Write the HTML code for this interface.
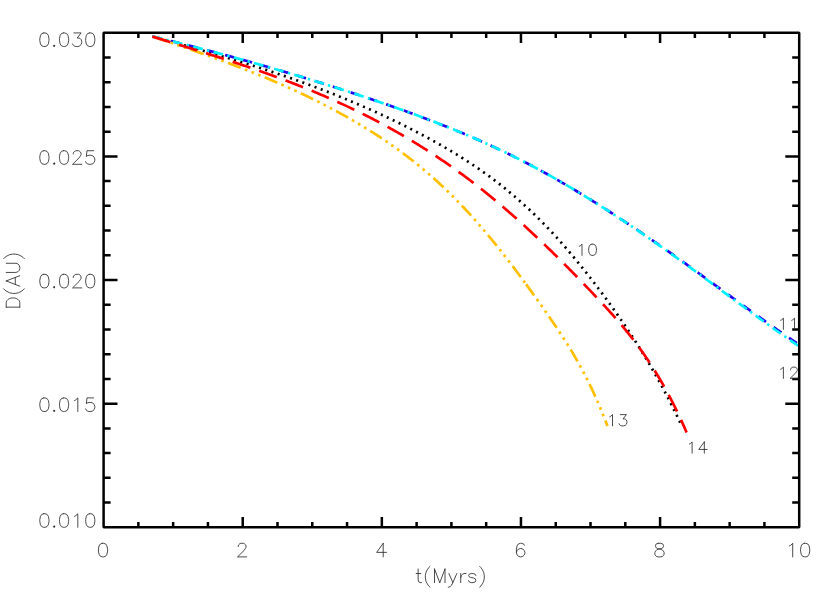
<!DOCTYPE html>
<html><head><meta charset="utf-8"><title>D(AU) vs t(Myrs)</title>
<style>html,body{margin:0;padding:0;background:#fff;font-family:"Liberation Sans",sans-serif;}svg{display:block;}</style></head><body>
<svg width="830" height="593" viewBox="0 0 830 593">
<rect x="0" y="0" width="830" height="593" fill="#ffffff"/>
<g fill="none" stroke-width="2.7" stroke-linecap="butt" stroke-linejoin="round">
<path d="M152.50 36.50 L153.56 36.79 L154.62 37.08 L155.67 37.37 L156.73 37.66 L157.79 37.95 L158.85 38.24 L159.91 38.53 L160.97 38.82 L162.02 39.11 L163.08 39.40 L164.14 39.69 L165.20 39.99 L166.26 40.28 L167.32 40.57 L168.37 40.86 L169.43 41.16 L170.49 41.45 L171.55 41.74 L172.61 42.04 L173.67 42.33 L174.72 42.62 L175.78 42.92 L176.84 43.21 L177.90 43.51 L178.96 43.80 L180.02 44.10 L181.07 44.39 L182.13 44.69 L183.19 44.99 L184.25 45.28 L185.31 45.58 L186.37 45.88 L187.42 46.18 L188.48 46.48 L189.54 46.77 L190.60 47.07 L191.66 47.37 L192.72 47.67 L193.77 47.97 L194.83 48.27 L195.89 48.58 L196.95 48.88 L198.01 49.18 L199.07 49.48 L200.12 49.79 L201.18 50.09 L202.24 50.39 L203.30 50.70 L204.36 51.00 L205.42 51.31 L206.47 51.61 L207.53 51.92 L208.59 52.23 L209.65 52.53 L210.71 52.84 L211.77 53.15 L212.82 53.46 L213.88 53.77 L214.94 54.08 L216.00 54.39 L217.06 54.70 L218.12 55.01 L219.17 55.33 L220.23 55.64 L221.29 55.95 L222.35 56.27 L223.41 56.58 L224.47 56.90 L225.52 57.21 L226.58 57.53 L227.64 57.85 L228.70 58.17 L229.76 58.48 L230.82 58.80 L231.87 59.12 L232.93 59.44 L233.99 59.77 L235.05 60.09 L236.11 60.41 L237.17 60.73 L238.22 61.06 L239.28 61.38 L240.34 61.71 L241.40 62.04 L242.46 62.36 L243.52 62.69 L244.57 63.02 L245.63 63.35 L246.69 63.68 L247.75 64.01 L248.81 64.34 L249.87 64.68 L250.92 65.01 L251.98 65.34 L253.04 65.68 L254.10 66.01 L255.16 66.35 L256.22 66.69 L257.27 67.03 L258.33 67.37 L259.39 67.71 L260.45 68.05 L261.51 68.39 L262.56 68.73 L263.62 69.08 L264.68 69.42 L265.74 69.77 L266.80 70.11 L267.86 70.46 L268.91 70.81 L269.97 71.16 L271.03 71.51 L272.09 71.86 L273.15 72.21 L274.21 72.56 L275.26 72.92 L276.32 73.27 L277.38 73.63 L278.44 73.99 L279.50 74.34 L280.56 74.70 L281.61 75.06 L282.67 75.42 L283.73 75.79 L284.79 76.15 L285.85 76.51 L286.91 76.88 L287.96 77.25 L289.02 77.61 L290.08 77.98 L291.14 78.35 L292.20 78.72 L293.26 79.09 L294.31 79.47 L295.37 79.84 L296.43 80.22 L297.49 80.59 L298.55 80.97 L299.61 81.35 L300.66 81.73 L301.72 82.11 L302.78 82.49 L303.84 82.87 L304.90 83.26 L305.96 83.64 L307.01 84.03 L308.07 84.42 L309.13 84.81 L310.19 85.20 L311.25 85.59 L312.31 85.98 L313.36 86.37 L314.42 86.77 L315.48 87.17 L316.54 87.56 L317.60 87.96 L318.66 88.36 L319.71 88.77 L320.77 89.17 L321.83 89.57 L322.89 89.98 L323.95 90.38 L325.01 90.79 L326.06 91.20 L327.12 91.61 L328.18 92.03 L329.24 92.44 L330.30 92.85 L331.36 93.27 L332.41 93.69 L333.47 94.11 L334.53 94.53 L335.59 94.95 L336.65 95.37 L337.71 95.80 L338.76 96.22 L339.82 96.65 L340.88 97.08 L341.94 97.51 L343.00 97.94 L344.06 98.37 L345.11 98.81 L346.17 99.24 L347.23 99.68 L348.29 100.12 L349.35 100.56 L350.41 101.00 L351.46 101.45 L352.52 101.89 L353.58 102.34 L354.64 102.78 L355.70 103.23 L356.76 103.69 L357.81 104.14 L358.87 104.59 L359.93 105.05 L360.99 105.51 L362.05 105.96 L363.11 106.42 L364.16 106.89 L365.22 107.35 L366.28 107.82 L367.34 108.28 L368.40 108.75 L369.45 109.22 L370.51 109.69 L371.57 110.17 L372.63 110.64 L373.69 111.12 L374.75 111.60 L375.80 112.08 L376.86 112.56 L377.92 113.04 L378.98 113.53 L380.04 114.01 L381.10 114.50 L382.15 114.99 L383.21 115.48 L384.27 115.98 L385.33 116.47 L386.39 116.97 L387.45 117.47 L388.50 117.97 L389.56 118.47 L390.62 118.98 L391.68 119.48 L392.74 119.99 L393.80 120.50 L394.85 121.01 L395.91 121.52 L396.97 122.04 L398.03 122.55 L399.09 123.07 L400.15 123.59 L401.20 124.12 L402.26 124.64 L403.32 125.17 L404.38 125.69 L405.44 126.22 L406.50 126.75 L407.55 127.29 L408.61 127.82 L409.67 128.36 L410.73 128.90 L411.79 129.44 L412.85 129.98 L413.90 130.53 L414.96 131.08 L416.02 131.63 L417.08 132.18 L418.14 132.73 L419.20 133.28 L420.25 133.84 L421.31 134.40 L422.37 134.96 L423.43 135.52 L424.49 136.09 L425.55 136.65 L426.60 137.22 L427.66 137.79 L428.72 138.37 L429.78 138.94 L430.84 139.52 L431.90 140.10 L432.95 140.68 L434.01 141.27 L435.07 141.86 L436.13 142.45 L437.19 143.04 L438.25 143.64 L439.30 144.23 L440.36 144.83 L441.42 145.44 L442.48 146.04 L443.54 146.65 L444.60 147.26 L445.65 147.88 L446.71 148.50 L447.77 149.12 L448.83 149.74 L449.89 150.37 L450.95 151.00 L452.00 151.63 L453.06 152.27 L454.12 152.91 L455.18 153.55 L456.24 154.20 L457.30 154.85 L458.35 155.50 L459.41 156.16 L460.47 156.82 L461.53 157.49 L462.59 158.15 L463.65 158.83 L464.70 159.50 L465.76 160.18 L466.82 160.86 L467.88 161.55 L468.94 162.24 L469.99 162.94 L471.05 163.64 L472.11 164.34 L473.17 165.05 L474.23 165.76 L475.29 166.47 L476.34 167.19 L477.40 167.92 L478.46 168.64 L479.52 169.38 L480.58 170.11 L481.64 170.85 L482.69 171.60 L483.75 172.35 L484.81 173.11 L485.87 173.87 L486.93 174.63 L487.99 175.40 L489.04 176.17 L490.10 176.95 L491.16 177.73 L492.22 178.52 L493.28 179.32 L494.34 180.11 L495.39 180.92 L496.45 181.73 L497.51 182.54 L498.57 183.36 L499.63 184.18 L500.69 185.01 L501.74 185.85 L502.80 186.69 L503.86 187.53 L504.92 188.38 L505.98 189.24 L507.04 190.10 L508.09 190.97 L509.15 191.84 L510.21 192.72 L511.27 193.60 L512.33 194.49 L513.39 195.39 L514.44 196.29 L515.50 197.20 L516.56 198.11 L517.62 199.03 L518.68 199.95 L519.74 200.89 L520.79 201.82 L521.85 202.77 L522.91 203.72 L523.97 204.67 L525.03 205.64 L526.09 206.60 L527.14 207.58 L528.20 208.56 L529.26 209.55 L530.32 210.54 L531.38 211.54 L532.44 212.55 L533.49 213.57 L534.55 214.59 L535.61 215.62 L536.67 216.65 L537.73 217.69 L538.79 218.74 L539.84 219.79 L540.90 220.86 L541.96 221.93 L543.02 223.00 L544.08 224.08 L545.14 225.17 L546.19 226.27 L547.25 227.38 L548.31 228.49 L549.37 229.61 L550.43 230.73 L551.49 231.86 L552.54 233.00 L553.60 234.15 L554.66 235.30 L555.72 236.46 L556.78 237.63 L557.84 238.80 L558.89 239.98 L559.95 241.16 L561.01 242.36 L562.07 243.56 L563.13 244.76 L564.19 245.97 L565.24 247.19 L566.30 248.42 L567.36 249.65 L568.42 250.89 L569.48 252.13 L570.54 253.38 L571.59 254.64 L572.65 255.90 L573.71 257.17 L574.77 258.44 L575.83 259.73 L576.88 261.01 L577.94 262.31 L579.00 263.60 L580.06 264.91 L581.12 266.22 L582.18 267.54 L583.23 268.86 L584.29 270.19 L585.35 271.52 L586.41 272.86 L587.47 274.21 L588.53 275.56 L589.58 276.92 L590.64 278.28 L591.70 279.65 L592.76 281.02 L593.82 282.40 L594.88 283.79 L595.93 285.18 L596.99 286.58 L598.05 287.98 L599.11 289.38 L600.17 290.79 L601.23 292.21 L602.28 293.63 L603.34 295.06 L604.40 296.49 L605.46 297.93 L606.52 299.38 L607.58 300.82 L608.63 302.28 L609.69 303.74 L610.75 305.20 L611.81 306.67 L612.87 308.15 L613.93 309.63 L614.98 311.12 L616.04 312.62 L617.10 314.12 L618.16 315.63 L619.22 317.15 L620.28 318.67 L621.33 320.20 L622.39 321.74 L623.45 323.29 L624.51 324.84 L625.57 326.41 L626.63 327.98 L627.68 329.56 L628.74 331.15 L629.80 332.75 L630.86 334.35 L631.92 335.97 L632.98 337.60 L634.03 339.23 L635.09 340.88 L636.15 342.53 L637.21 344.20 L638.27 345.87 L639.33 347.56 L640.38 349.25 L641.44 350.96 L642.50 352.68 L643.56 354.41 L644.62 356.15 L645.68 357.90 L646.73 359.67 L647.79 361.44 L648.85 363.23 L649.91 365.03 L650.97 366.84 L652.03 368.67 L653.08 370.51 L654.14 372.36 L655.20 374.22 L656.26 376.10 L657.32 377.99 L658.38 379.90 L659.43 381.81 L660.49 383.75 L661.55 385.69 L662.61 387.65 L663.67 389.63 L664.73 391.62 L665.78 393.63 L666.84 395.65 L667.90 397.68 L668.96 399.73 L670.02 401.80 L671.08 403.88 L672.13 405.98 L673.19 408.09 L674.25 410.22 L675.31 412.37 L676.37 414.54 L677.43 416.72 L678.48 418.91 L679.54 421.13 L680.60 423.36" stroke="#000000" stroke-dasharray="2.05 4.48"/>
<path d="M152.50 36.50 L153.80 36.81 L155.09 37.13 L156.39 37.44 L157.68 37.75 L158.98 38.07 L160.28 38.39 L161.57 38.70 L162.87 39.02 L164.17 39.34 L165.46 39.66 L166.76 39.97 L168.05 40.29 L169.35 40.62 L170.65 40.94 L171.94 41.26 L173.24 41.58 L174.54 41.90 L175.83 42.23 L177.13 42.55 L178.42 42.88 L179.72 43.20 L181.02 43.53 L182.31 43.85 L183.61 44.18 L184.90 44.51 L186.20 44.84 L187.50 45.17 L188.79 45.50 L190.09 45.83 L191.39 46.16 L192.68 46.49 L193.98 46.83 L195.27 47.16 L196.57 47.49 L197.87 47.83 L199.16 48.16 L200.46 48.50 L201.76 48.84 L203.05 49.17 L204.35 49.51 L205.64 49.85 L206.94 50.19 L208.24 50.53 L209.53 50.87 L210.83 51.21 L212.12 51.56 L213.42 51.90 L214.72 52.24 L216.01 52.59 L217.31 52.93 L218.61 53.28 L219.90 53.62 L221.20 53.97 L222.49 54.32 L223.79 54.67 L225.09 55.02 L226.38 55.37 L227.68 55.72 L228.98 56.07 L230.27 56.42 L231.57 56.77 L232.86 57.13 L234.16 57.48 L235.46 57.84 L236.75 58.19 L238.05 58.55 L239.34 58.91 L240.64 59.26 L241.94 59.62 L243.23 59.98 L244.53 60.34 L245.83 60.70 L247.12 61.06 L248.42 61.42 L249.71 61.79 L251.01 62.15 L252.31 62.52 L253.60 62.88 L254.90 63.25 L256.20 63.61 L257.49 63.98 L258.79 64.35 L260.08 64.72 L261.38 65.09 L262.68 65.46 L263.97 65.83 L265.27 66.20 L266.56 66.57 L267.86 66.94 L269.16 67.32 L270.45 67.69 L271.75 68.07 L273.05 68.44 L274.34 68.82 L275.64 69.20 L276.93 69.58 L278.23 69.95 L279.53 70.33 L280.82 70.72 L282.12 71.10 L283.42 71.48 L284.71 71.86 L286.01 72.25 L287.30 72.63 L288.60 73.01 L289.90 73.40 L291.19 73.79 L292.49 74.18 L293.78 74.56 L295.08 74.95 L296.38 75.34 L297.67 75.73 L298.97 76.12 L300.27 76.52 L301.56 76.91 L302.86 77.30 L304.15 77.70 L305.45 78.09 L306.75 78.49 L308.04 78.89 L309.34 79.28 L310.64 79.68 L311.93 80.08 L313.23 80.48 L314.52 80.88 L315.82 81.28 L317.12 81.69 L318.41 82.09 L319.71 82.49 L321.01 82.90 L322.30 83.30 L323.60 83.71 L324.89 84.12 L326.19 84.53 L327.49 84.93 L328.78 85.34 L330.08 85.75 L331.37 86.17 L332.67 86.58 L333.97 86.99 L335.26 87.40 L336.56 87.82 L337.86 88.23 L339.15 88.65 L340.45 89.07 L341.74 89.48 L343.04 89.90 L344.34 90.32 L345.63 90.74 L346.93 91.16 L348.23 91.59 L349.52 92.01 L350.82 92.43 L352.11 92.86 L353.41 93.28 L354.71 93.71 L356.00 94.14 L357.30 94.56 L358.59 94.99 L359.89 95.42 L361.19 95.85 L362.48 96.28 L363.78 96.71 L365.08 97.15 L366.37 97.58 L367.67 98.02 L368.96 98.45 L370.26 98.89 L371.56 99.32 L372.85 99.76 L374.15 100.20 L375.45 100.64 L376.74 101.08 L378.04 101.52 L379.33 101.97 L380.63 102.41 L381.93 102.85 L383.22 103.30 L384.52 103.75 L385.81 104.19 L387.11 104.64 L388.41 105.09 L389.70 105.54 L391.00 105.99 L392.30 106.44 L393.59 106.90 L394.89 107.35 L396.18 107.81 L397.48 108.27 L398.78 108.73 L400.07 109.19 L401.37 109.65 L402.67 110.11 L403.96 110.57 L405.26 111.04 L406.55 111.50 L407.85 111.97 L409.15 112.44 L410.44 112.91 L411.74 113.38 L413.03 113.85 L414.33 114.33 L415.63 114.80 L416.92 115.28 L418.22 115.76 L419.52 116.24 L420.81 116.72 L422.11 117.21 L423.40 117.69 L424.70 118.18 L426.00 118.67 L427.29 119.16 L428.59 119.65 L429.89 120.14 L431.18 120.64 L432.48 121.13 L433.77 121.63 L435.07 122.13 L436.37 122.63 L437.66 123.14 L438.96 123.64 L440.25 124.15 L441.55 124.66 L442.85 125.17 L444.14 125.68 L445.44 126.20 L446.74 126.71 L448.03 127.23 L449.33 127.75 L450.62 128.27 L451.92 128.80 L453.22 129.33 L454.51 129.85 L455.81 130.38 L457.11 130.92 L458.40 131.45 L459.70 131.99 L460.99 132.53 L462.29 133.07 L463.59 133.61 L464.88 134.16 L466.18 134.71 L467.47 135.25 L468.77 135.81 L470.07 136.36 L471.36 136.92 L472.66 137.48 L473.96 138.04 L475.25 138.60 L476.55 139.17 L477.84 139.74 L479.14 140.31 L480.44 140.88 L481.73 141.46 L483.03 142.03 L484.33 142.61 L485.62 143.20 L486.92 143.78 L488.21 144.37 L489.51 144.96 L490.81 145.56 L492.10 146.15 L493.40 146.75 L494.69 147.35 L495.99 147.95 L497.29 148.56 L498.58 149.17 L499.88 149.78 L501.18 150.40 L502.47 151.01 L503.77 151.63 L505.06 152.26 L506.36 152.88 L507.66 153.51 L508.95 154.14 L510.25 154.78 L511.55 155.41 L512.84 156.05 L514.14 156.69 L515.43 157.34 L516.73 157.99 L518.03 158.64 L519.32 159.30 L520.62 159.95 L521.91 160.61 L523.21 161.28 L524.51 161.94 L525.80 162.61 L527.10 163.29 L528.40 163.96 L529.69 164.64 L530.99 165.32 L532.28 166.01 L533.58 166.70 L534.88 167.39 L536.17 168.08 L537.47 168.78 L538.77 169.48 L540.06 170.18 L541.36 170.89 L542.65 171.60 L543.95 172.31 L545.25 173.02 L546.54 173.74 L547.84 174.46 L549.13 175.18 L550.43 175.91 L551.73 176.64 L553.02 177.37 L554.32 178.10 L555.62 178.84 L556.91 179.58 L558.21 180.32 L559.50 181.06 L560.80 181.81 L562.10 182.56 L563.39 183.31 L564.69 184.07 L565.99 184.83 L567.28 185.59 L568.58 186.35 L569.87 187.12 L571.17 187.88 L572.47 188.65 L573.76 189.43 L575.06 190.20 L576.35 190.98 L577.65 191.76 L578.95 192.54 L580.24 193.33 L581.54 194.11 L582.84 194.90 L584.13 195.69 L585.43 196.49 L586.72 197.29 L588.02 198.08 L589.32 198.88 L590.61 199.69 L591.91 200.49 L593.21 201.30 L594.50 202.11 L595.80 202.92 L597.09 203.74 L598.39 204.55 L599.69 205.37 L600.98 206.19 L602.28 207.02 L603.57 207.84 L604.87 208.67 L606.17 209.50 L607.46 210.33 L608.76 211.16 L610.06 212.00 L611.35 212.83 L612.65 213.67 L613.94 214.52 L615.24 215.36 L616.54 216.20 L617.83 217.05 L619.13 217.90 L620.43 218.75 L621.72 219.61 L623.02 220.46 L624.31 221.32 L625.61 222.18 L626.91 223.04 L628.20 223.90 L629.50 224.76 L630.79 225.63 L632.09 226.50 L633.39 227.37 L634.68 228.24 L635.98 229.11 L637.28 229.99 L638.57 230.86 L639.87 231.74 L641.16 232.62 L642.46 233.50 L643.76 234.39 L645.05 235.27 L646.35 236.16 L647.65 237.05 L648.94 237.94 L650.24 238.83 L651.53 239.72 L652.83 240.62 L654.13 241.51 L655.42 242.41 L656.72 243.31 L658.02 244.21 L659.31 245.12 L660.61 246.02 L661.90 246.92 L663.20 247.83 L664.50 248.74 L665.79 249.65 L667.09 250.56 L668.38 251.47 L669.68 252.39 L670.98 253.30 L672.27 254.22 L673.57 255.14 L674.87 256.06 L676.16 256.98 L677.46 257.90 L678.75 258.82 L680.05 259.75 L681.35 260.67 L682.64 261.60 L683.94 262.53 L685.24 263.46 L686.53 264.39 L687.83 265.32 L689.12 266.25 L690.42 267.18 L691.72 268.12 L693.01 269.05 L694.31 269.99 L695.60 270.93 L696.90 271.86 L698.20 272.80 L699.49 273.74 L700.79 274.68 L702.09 275.62 L703.38 276.56 L704.68 277.50 L705.97 278.44 L707.27 279.38 L708.57 280.33 L709.86 281.27 L711.16 282.21 L712.46 283.16 L713.75 284.10 L715.05 285.04 L716.34 285.99 L717.64 286.93 L718.94 287.87 L720.23 288.82 L721.53 289.76 L722.82 290.71 L724.12 291.65 L725.42 292.59 L726.71 293.54 L728.01 294.48 L729.31 295.42 L730.60 296.36 L731.90 297.31 L733.19 298.25 L734.49 299.19 L735.79 300.13 L737.08 301.07 L738.38 302.01 L739.68 302.95 L740.97 303.89 L742.27 304.83 L743.56 305.76 L744.86 306.70 L746.16 307.64 L747.45 308.57 L748.75 309.51 L750.04 310.44 L751.34 311.37 L752.64 312.30 L753.93 313.23 L755.23 314.16 L756.53 315.09 L757.82 316.02 L759.12 316.94 L760.41 317.87 L761.71 318.79 L763.01 319.71 L764.30 320.63 L765.60 321.55 L766.90 322.47 L768.19 323.38 L769.49 324.30 L770.78 325.21 L772.08 326.12 L773.38 327.03 L774.67 327.94 L775.97 328.84 L777.26 329.75 L778.56 330.65 L779.86 331.55 L781.15 332.45 L782.45 333.35 L783.75 334.24 L785.04 335.13 L786.34 336.03 L787.63 336.91 L788.93 337.80 L790.23 338.69 L791.52 339.57 L792.82 340.45 L794.12 341.32 L795.41 342.20 L796.71 343.07 L798.00 343.94 L799.30 344.81" stroke="#2800f0" stroke-dasharray="9.35 9.37"/>
<path d="M152.50 36.50 L153.80 36.81 L155.09 37.13 L156.39 37.44 L157.68 37.75 L158.98 38.07 L160.28 38.39 L161.57 38.70 L162.87 39.02 L164.17 39.34 L165.46 39.66 L166.76 39.97 L168.05 40.29 L169.35 40.62 L170.65 40.94 L171.94 41.26 L173.24 41.58 L174.54 41.90 L175.83 42.23 L177.13 42.55 L178.42 42.88 L179.72 43.20 L181.02 43.53 L182.31 43.85 L183.61 44.18 L184.90 44.51 L186.20 44.84 L187.50 45.17 L188.79 45.50 L190.09 45.83 L191.39 46.16 L192.68 46.49 L193.98 46.83 L195.27 47.16 L196.57 47.49 L197.87 47.83 L199.16 48.16 L200.46 48.50 L201.76 48.84 L203.05 49.17 L204.35 49.51 L205.64 49.85 L206.94 50.19 L208.24 50.53 L209.53 50.87 L210.83 51.21 L212.12 51.56 L213.42 51.90 L214.72 52.24 L216.01 52.59 L217.31 52.93 L218.61 53.28 L219.90 53.62 L221.20 53.97 L222.49 54.32 L223.79 54.67 L225.09 55.02 L226.38 55.37 L227.68 55.72 L228.98 56.07 L230.27 56.42 L231.57 56.77 L232.86 57.13 L234.16 57.48 L235.46 57.84 L236.75 58.19 L238.05 58.55 L239.34 58.91 L240.64 59.26 L241.94 59.62 L243.23 59.98 L244.53 60.34 L245.83 60.70 L247.12 61.06 L248.42 61.42 L249.71 61.79 L251.01 62.15 L252.31 62.52 L253.60 62.88 L254.90 63.25 L256.20 63.61 L257.49 63.98 L258.79 64.35 L260.08 64.72 L261.38 65.09 L262.68 65.46 L263.97 65.83 L265.27 66.20 L266.56 66.57 L267.86 66.94 L269.16 67.32 L270.45 67.69 L271.75 68.07 L273.05 68.44 L274.34 68.82 L275.64 69.20 L276.93 69.58 L278.23 69.95 L279.53 70.33 L280.82 70.72 L282.12 71.10 L283.42 71.48 L284.71 71.86 L286.01 72.25 L287.30 72.63 L288.60 73.01 L289.90 73.40 L291.19 73.79 L292.49 74.18 L293.78 74.56 L295.08 74.95 L296.38 75.34 L297.67 75.73 L298.97 76.12 L300.27 76.52 L301.56 76.91 L302.86 77.30 L304.15 77.70 L305.45 78.09 L306.75 78.49 L308.04 78.89 L309.34 79.28 L310.64 79.68 L311.93 80.08 L313.23 80.48 L314.52 80.88 L315.82 81.28 L317.12 81.69 L318.41 82.09 L319.71 82.49 L321.01 82.90 L322.30 83.30 L323.60 83.71 L324.89 84.12 L326.19 84.53 L327.49 84.93 L328.78 85.34 L330.08 85.75 L331.37 86.17 L332.67 86.58 L333.97 86.99 L335.26 87.40 L336.56 87.82 L337.86 88.23 L339.15 88.65 L340.45 89.07 L341.74 89.48 L343.04 89.90 L344.34 90.32 L345.63 90.74 L346.93 91.16 L348.23 91.59 L349.52 92.01 L350.82 92.43 L352.11 92.86 L353.41 93.28 L354.71 93.71 L356.00 94.14 L357.30 94.56 L358.59 94.99 L359.89 95.42 L361.19 95.85 L362.48 96.28 L363.78 96.71 L365.08 97.15 L366.37 97.58 L367.67 98.02 L368.96 98.45 L370.26 98.89 L371.56 99.32 L372.85 99.76 L374.15 100.20 L375.45 100.64 L376.74 101.08 L378.04 101.52 L379.33 101.97 L380.63 102.41 L381.93 102.85 L383.22 103.30 L384.52 103.75 L385.81 104.19 L387.11 104.64 L388.41 105.09 L389.70 105.54 L391.00 105.99 L392.30 106.44 L393.59 106.90 L394.89 107.35 L396.18 107.81 L397.48 108.27 L398.78 108.73 L400.07 109.19 L401.37 109.65 L402.67 110.11 L403.96 110.57 L405.26 111.04 L406.55 111.50 L407.85 111.97 L409.15 112.44 L410.44 112.91 L411.74 113.38 L413.03 113.85 L414.33 114.33 L415.63 114.80 L416.92 115.28 L418.22 115.76 L419.52 116.24 L420.81 116.72 L422.11 117.21 L423.40 117.69 L424.70 118.18 L426.00 118.67 L427.29 119.16 L428.59 119.65 L429.89 120.14 L431.18 120.64 L432.48 121.13 L433.77 121.63 L435.07 122.13 L436.37 122.63 L437.66 123.14 L438.96 123.64 L440.25 124.15 L441.55 124.66 L442.85 125.17 L444.14 125.68 L445.44 126.20 L446.74 126.71 L448.03 127.23 L449.33 127.75 L450.62 128.27 L451.92 128.80 L453.22 129.33 L454.51 129.85 L455.81 130.38 L457.11 130.92 L458.40 131.45 L459.70 131.99 L460.99 132.53 L462.29 133.07 L463.59 133.61 L464.88 134.16 L466.18 134.71 L467.47 135.25 L468.77 135.81 L470.07 136.36 L471.36 136.92 L472.66 137.48 L473.96 138.04 L475.25 138.60 L476.55 139.17 L477.84 139.74 L479.14 140.31 L480.44 140.88 L481.73 141.46 L483.03 142.03 L484.33 142.61 L485.62 143.20 L486.92 143.78 L488.21 144.37 L489.51 144.96 L490.81 145.56 L492.10 146.15 L493.40 146.75 L494.69 147.35 L495.99 147.95 L497.29 148.56 L498.58 149.17 L499.88 149.78 L501.18 150.40 L502.47 151.01 L503.77 151.63 L505.06 152.26 L506.36 152.88 L507.66 153.51 L508.95 154.14 L510.25 154.78 L511.55 155.41 L512.84 156.05 L514.14 156.69 L515.43 157.34 L516.73 157.99 L518.03 158.64 L519.32 159.30 L520.62 159.95 L521.91 160.61 L523.21 161.28 L524.51 161.94 L525.80 162.61 L527.10 163.29 L528.40 163.96 L529.69 164.64 L530.99 165.32 L532.28 166.01 L533.58 166.70 L534.88 167.39 L536.17 168.08 L537.47 168.78 L538.77 169.48 L540.06 170.18 L541.36 170.89 L542.65 171.60 L543.95 172.31 L545.25 173.02 L546.54 173.74 L547.84 174.46 L549.13 175.18 L550.43 175.91 L551.73 176.64 L553.02 177.37 L554.32 178.10 L555.62 178.84 L556.91 179.58 L558.21 180.32 L559.50 181.06 L560.80 181.81 L562.10 182.56 L563.39 183.32 L564.69 184.07 L565.99 184.83 L567.28 185.59 L568.58 186.35 L569.87 187.12 L571.17 187.89 L572.47 188.66 L573.76 189.43 L575.06 190.21 L576.35 190.99 L577.65 191.77 L578.95 192.55 L580.24 193.34 L581.54 194.13 L582.84 194.92 L584.13 195.71 L585.43 196.51 L586.72 197.31 L588.02 198.11 L589.32 198.91 L590.61 199.72 L591.91 200.52 L593.21 201.33 L594.50 202.15 L595.80 202.96 L597.09 203.78 L598.39 204.60 L599.69 205.42 L600.98 206.24 L602.28 207.07 L603.57 207.90 L604.87 208.73 L606.17 209.56 L607.46 210.40 L608.76 211.23 L610.06 212.07 L611.35 212.91 L612.65 213.76 L613.94 214.60 L615.24 215.45 L616.54 216.30 L617.83 217.15 L619.13 218.00 L620.43 218.86 L621.72 219.72 L623.02 220.58 L624.31 221.44 L625.61 222.30 L626.91 223.17 L628.20 224.04 L629.50 224.91 L630.79 225.78 L632.09 226.65 L633.39 227.53 L634.68 228.40 L635.98 229.28 L637.28 230.16 L638.57 231.05 L639.87 231.93 L641.16 232.82 L642.46 233.71 L643.76 234.60 L645.05 235.49 L646.35 236.38 L647.65 237.28 L648.94 238.17 L650.24 239.07 L651.53 239.97 L652.83 240.87 L654.13 241.78 L655.42 242.68 L656.72 243.59 L658.02 244.50 L659.31 245.41 L660.61 246.32 L661.90 247.23 L663.20 248.15 L664.50 249.06 L665.79 249.98 L667.09 250.90 L668.38 251.82 L669.68 252.74 L670.98 253.67 L672.27 254.59 L673.57 255.52 L674.87 256.45 L676.16 257.38 L677.46 258.31 L678.75 259.24 L680.05 260.17 L681.35 261.11 L682.64 262.05 L683.94 262.98 L685.24 263.92 L686.53 264.86 L687.83 265.80 L689.12 266.75 L690.42 267.69 L691.72 268.63 L693.01 269.58 L694.31 270.52 L695.60 271.47 L696.90 272.42 L698.20 273.37 L699.49 274.32 L700.79 275.27 L702.09 276.22 L703.38 277.17 L704.68 278.12 L705.97 279.07 L707.27 280.03 L708.57 280.98 L709.86 281.94 L711.16 282.89 L712.46 283.85 L713.75 284.80 L715.05 285.76 L716.34 286.71 L717.64 287.67 L718.94 288.62 L720.23 289.58 L721.53 290.54 L722.82 291.49 L724.12 292.45 L725.42 293.41 L726.71 294.36 L728.01 295.32 L729.31 296.27 L730.60 297.23 L731.90 298.18 L733.19 299.14 L734.49 300.09 L735.79 301.05 L737.08 302.00 L738.38 302.96 L739.68 303.91 L740.97 304.86 L742.27 305.81 L743.56 306.77 L744.86 307.72 L746.16 308.67 L747.45 309.61 L748.75 310.56 L750.04 311.51 L751.34 312.46 L752.64 313.40 L753.93 314.35 L755.23 315.29 L756.53 316.24 L757.82 317.18 L759.12 318.12 L760.41 319.06 L761.71 320.00 L763.01 320.93 L764.30 321.87 L765.60 322.80 L766.90 323.74 L768.19 324.67 L769.49 325.60 L770.78 326.53 L772.08 327.46 L773.38 328.38 L774.67 329.31 L775.97 330.23 L777.26 331.15 L778.56 332.07 L779.86 332.99 L781.15 333.90 L782.45 334.82 L783.75 335.73 L785.04 336.64 L786.34 337.55 L787.63 338.45 L788.93 339.36 L790.23 340.26 L791.52 341.16 L792.82 342.06 L794.12 342.95 L795.41 343.85 L796.71 344.74 L798.00 345.62 L799.30 346.51" stroke="#00f0ff" stroke-dasharray="9.85 4.4 2.3 4.43"/>
<path d="M152.50 36.50 L153.41 36.81 L154.32 37.11 L155.24 37.42 L156.15 37.73 L157.06 38.04 L157.97 38.35 L158.88 38.66 L159.79 38.97 L160.71 39.28 L161.62 39.59 L162.53 39.90 L163.44 40.21 L164.35 40.52 L165.27 40.83 L166.18 41.14 L167.09 41.45 L168.00 41.76 L168.91 42.07 L169.82 42.38 L170.74 42.69 L171.65 43.00 L172.56 43.31 L173.47 43.63 L174.38 43.94 L175.30 44.25 L176.21 44.56 L177.12 44.87 L178.03 45.19 L178.94 45.50 L179.85 45.81 L180.77 46.13 L181.68 46.44 L182.59 46.75 L183.50 47.07 L184.41 47.38 L185.33 47.70 L186.24 48.01 L187.15 48.33 L188.06 48.64 L188.97 48.96 L189.88 49.28 L190.80 49.59 L191.71 49.91 L192.62 50.23 L193.53 50.55 L194.44 50.87 L195.36 51.19 L196.27 51.50 L197.18 51.82 L198.09 52.15 L199.00 52.47 L199.91 52.79 L200.83 53.11 L201.74 53.43 L202.65 53.75 L203.56 54.08 L204.47 54.40 L205.39 54.72 L206.30 55.05 L207.21 55.37 L208.12 55.70 L209.03 56.03 L209.94 56.35 L210.86 56.68 L211.77 57.01 L212.68 57.34 L213.59 57.67 L214.50 58.00 L215.42 58.33 L216.33 58.66 L217.24 58.99 L218.15 59.32 L219.06 59.66 L219.97 59.99 L220.89 60.32 L221.80 60.66 L222.71 60.99 L223.62 61.33 L224.53 61.67 L225.45 62.00 L226.36 62.34 L227.27 62.68 L228.18 63.02 L229.09 63.36 L230.01 63.70 L230.92 64.05 L231.83 64.39 L232.74 64.73 L233.65 65.08 L234.56 65.42 L235.48 65.77 L236.39 66.12 L237.30 66.47 L238.21 66.81 L239.12 67.16 L240.04 67.51 L240.95 67.87 L241.86 68.22 L242.77 68.57 L243.68 68.92 L244.59 69.28 L245.51 69.64 L246.42 69.99 L247.33 70.35 L248.24 70.71 L249.15 71.07 L250.07 71.43 L250.98 71.79 L251.89 72.15 L252.80 72.52 L253.71 72.88 L254.62 73.25 L255.54 73.61 L256.45 73.98 L257.36 74.35 L258.27 74.72 L259.18 75.09 L260.10 75.46 L261.01 75.83 L261.92 76.21 L262.83 76.58 L263.74 76.96 L264.65 77.33 L265.57 77.71 L266.48 78.09 L267.39 78.47 L268.30 78.85 L269.21 79.24 L270.13 79.62 L271.04 80.00 L271.95 80.39 L272.86 80.78 L273.77 81.17 L274.68 81.56 L275.60 81.95 L276.51 82.34 L277.42 82.73 L278.33 83.13 L279.24 83.52 L280.16 83.92 L281.07 84.32 L281.98 84.72 L282.89 85.12 L283.80 85.52 L284.71 85.93 L285.63 86.33 L286.54 86.74 L287.45 87.14 L288.36 87.55 L289.27 87.96 L290.19 88.37 L291.10 88.79 L292.01 89.20 L292.92 89.62 L293.83 90.03 L294.74 90.45 L295.66 90.87 L296.57 91.29 L297.48 91.72 L298.39 92.14 L299.30 92.57 L300.22 92.99 L301.13 93.42 L302.04 93.85 L302.95 94.28 L303.86 94.72 L304.77 95.15 L305.69 95.59 L306.60 96.02 L307.51 96.46 L308.42 96.90 L309.33 97.35 L310.25 97.79 L311.16 98.24 L312.07 98.68 L312.98 99.13 L313.89 99.58 L314.80 100.03 L315.72 100.49 L316.63 100.94 L317.54 101.40 L318.45 101.85 L319.36 102.31 L320.28 102.78 L321.19 103.24 L322.10 103.70 L323.01 104.17 L323.92 104.64 L324.83 105.11 L325.75 105.58 L326.66 106.05 L327.57 106.53 L328.48 107.00 L329.39 107.48 L330.31 107.96 L331.22 108.44 L332.13 108.93 L333.04 109.41 L333.95 109.90 L334.86 110.39 L335.78 110.88 L336.69 111.37 L337.60 111.87 L338.51 112.36 L339.42 112.86 L340.34 113.36 L341.25 113.86 L342.16 114.37 L343.07 114.87 L343.98 115.38 L344.89 115.89 L345.81 116.40 L346.72 116.91 L347.63 117.43 L348.54 117.95 L349.45 118.46 L350.37 118.99 L351.28 119.51 L352.19 120.03 L353.10 120.56 L354.01 121.09 L354.92 121.62 L355.84 122.15 L356.75 122.69 L357.66 123.23 L358.57 123.77 L359.48 124.31 L360.40 124.85 L361.31 125.40 L362.22 125.95 L363.13 126.50 L364.04 127.05 L364.95 127.61 L365.87 128.17 L366.78 128.73 L367.69 129.29 L368.60 129.86 L369.51 130.43 L370.43 131.00 L371.34 131.57 L372.25 132.15 L373.16 132.73 L374.07 133.31 L374.98 133.89 L375.90 134.48 L376.81 135.07 L377.72 135.66 L378.63 136.25 L379.54 136.85 L380.46 137.45 L381.37 138.06 L382.28 138.66 L383.19 139.27 L384.10 139.88 L385.02 140.50 L385.93 141.12 L386.84 141.74 L387.75 142.36 L388.66 142.99 L389.57 143.62 L390.49 144.25 L391.40 144.89 L392.31 145.53 L393.22 146.17 L394.13 146.82 L395.05 147.47 L395.96 148.12 L396.87 148.78 L397.78 149.43 L398.69 150.10 L399.60 150.76 L400.52 151.43 L401.43 152.11 L402.34 152.78 L403.25 153.46 L404.16 154.14 L405.08 154.83 L405.99 155.52 L406.90 156.21 L407.81 156.91 L408.72 157.61 L409.63 158.32 L410.55 159.03 L411.46 159.74 L412.37 160.45 L413.28 161.17 L414.19 161.90 L415.11 162.62 L416.02 163.35 L416.93 164.09 L417.84 164.83 L418.75 165.57 L419.66 166.32 L420.58 167.07 L421.49 167.82 L422.40 168.58 L423.31 169.34 L424.22 170.11 L425.14 170.88 L426.05 171.65 L426.96 172.43 L427.87 173.22 L428.78 174.00 L429.69 174.80 L430.61 175.59 L431.52 176.39 L432.43 177.20 L433.34 178.00 L434.25 178.82 L435.17 179.63 L436.08 180.46 L436.99 181.28 L437.90 182.11 L438.81 182.95 L439.72 183.79 L440.64 184.63 L441.55 185.48 L442.46 186.33 L443.37 187.19 L444.28 188.05 L445.20 188.92 L446.11 189.79 L447.02 190.67 L447.93 191.55 L448.84 192.44 L449.75 193.33 L450.67 194.22 L451.58 195.12 L452.49 196.03 L453.40 196.94 L454.31 197.86 L455.23 198.78 L456.14 199.70 L457.05 200.63 L457.96 201.57 L458.87 202.51 L459.78 203.45 L460.70 204.40 L461.61 205.36 L462.52 206.32 L463.43 207.28 L464.34 208.25 L465.26 209.23 L466.17 210.21 L467.08 211.20 L467.99 212.19 L468.90 213.18 L469.81 214.18 L470.73 215.19 L471.64 216.20 L472.55 217.22 L473.46 218.24 L474.37 219.26 L475.29 220.29 L476.20 221.33 L477.11 222.37 L478.02 223.41 L478.93 224.46 L479.84 225.51 L480.76 226.57 L481.67 227.63 L482.58 228.70 L483.49 229.77 L484.40 230.84 L485.32 231.92 L486.23 233.01 L487.14 234.10 L488.05 235.19 L488.96 236.29 L489.87 237.39 L490.79 238.50 L491.70 239.61 L492.61 240.72 L493.52 241.84 L494.43 242.96 L495.35 244.09 L496.26 245.22 L497.17 246.35 L498.08 247.49 L498.99 248.64 L499.90 249.78 L500.82 250.93 L501.73 252.09 L502.64 253.25 L503.55 254.41 L504.46 255.58 L505.38 256.75 L506.29 257.92 L507.20 259.10 L508.11 260.28 L509.02 261.46 L509.93 262.65 L510.85 263.84 L511.76 265.04 L512.67 266.24 L513.58 267.44 L514.49 268.65 L515.41 269.85 L516.32 271.07 L517.23 272.28 L518.14 273.50 L519.05 274.73 L519.96 275.95 L520.88 277.18 L521.79 278.42 L522.70 279.65 L523.61 280.89 L524.52 282.13 L525.44 283.38 L526.10 284.29" stroke="#ffc000" stroke-dasharray="13.7 4.5 2.6 4.5 2.6 4.5 2.6 4.5" stroke-dashoffset="-0.9"/>
<path d="M526.10 284.29 L526.35 284.63 L527.26 285.88 L528.17 287.13 L529.08 288.39 L529.99 289.65 L530.91 290.91 L531.82 292.18 L532.73 293.45 L533.64 294.72 L534.55 296.00 L535.47 297.28 L536.38 298.56 L537.29 299.84 L538.20 301.13 L539.11 302.41 L540.03 303.71 L540.94 305.00 L541.85 306.30 L542.76 307.60 L543.67 308.90 L544.58 310.20 L545.50 311.51 L546.41 312.82 L547.32 314.13 L548.23 315.44 L549.14 316.76 L550.06 318.08 L550.97 319.40 L551.88 320.73 L552.79 322.06 L553.70 323.39 L554.61 324.73 L555.53 326.07 L556.44 327.42 L557.35 328.78 L558.26 330.14 L559.17 331.51 L560.09 332.88 L561.00 334.27 L561.91 335.66 L562.82 337.06 L563.73 338.48 L564.64 339.90 L565.56 341.33 L566.47 342.77 L567.38 344.22 L568.29 345.69 L569.20 347.17 L570.12 348.66 L571.03 350.16 L571.94 351.67 L572.85 353.20 L573.76 354.75 L574.67 356.31 L575.59 357.88 L576.50 359.47 L577.41 361.08 L578.32 362.70 L579.23 364.34 L580.15 365.99 L581.06 367.67 L581.97 369.36 L582.88 371.07 L583.79 372.80 L584.70 374.55 L585.62 376.33 L586.53 378.12 L587.44 379.93 L588.35 381.76 L589.26 383.62 L590.18 385.50 L591.09 387.40 L592.00 389.33 L592.91 391.27 L593.82 393.25 L594.73 395.24 L595.65 397.27 L596.56 399.31 L597.47 401.39 L598.38 403.49 L599.29 405.62 L600.21 407.77 L601.12 409.96 L602.03 412.17 L602.94 414.41 L603.85 416.68 L604.76 418.97 L605.68 421.30 L606.59 423.66 L607.50 426.05" stroke="#ffc000" stroke-dasharray="13.7 4.5 2.6 4.5 2.6 4.5 2.6 4.5"/>
<path d="M152.40 36.60 L153.47 36.93 L154.54 37.25 L155.61 37.58 L156.68 37.91 L157.75 38.24 L158.82 38.57 L159.89 38.90 L160.96 39.23 L162.03 39.56 L163.11 39.89 L164.18 40.21 L165.25 40.54 L166.32 40.87 L167.39 41.20 L168.46 41.53 L169.53 41.86 L170.60 42.19 L171.67 42.52 L172.74 42.85 L173.81 43.17 L174.88 43.50 L175.95 43.83 L177.02 44.16 L178.09 44.49 L179.16 44.82 L180.23 45.15 L181.30 45.48 L182.38 45.81 L183.45 46.14 L184.52 46.48 L185.59 46.81 L186.66 47.14 L187.73 47.47 L188.80 47.80 L189.87 48.13 L190.94 48.47 L192.01 48.80 L193.08 49.13 L194.15 49.47 L195.22 49.80 L196.29 50.13 L197.36 50.47 L198.43 50.80 L199.50 51.14 L200.57 51.47 L201.64 51.81 L202.72 52.15 L203.79 52.48 L204.86 52.82 L205.93 53.16 L207.00 53.50 L208.07 53.84 L209.14 54.18 L210.21 54.52 L211.28 54.86 L212.35 55.20 L213.42 55.54 L214.49 55.88 L215.56 56.22 L216.63 56.57 L217.70 56.91 L218.77 57.25 L219.84 57.60 L220.91 57.94 L221.99 58.29 L223.06 58.64 L224.13 58.99 L225.20 59.33 L226.27 59.68 L227.34 60.03 L228.41 60.38 L229.48 60.73 L230.55 61.08 L231.62 61.44 L232.69 61.79 L233.76 62.14 L234.83 62.50 L235.90 62.85 L236.97 63.21 L238.04 63.57 L239.11 63.93 L240.18 64.28 L241.25 64.64 L242.33 65.00 L243.40 65.37 L244.47 65.73 L245.54 66.09 L246.61 66.45 L247.68 66.82 L248.75 67.19 L249.82 67.55 L250.89 67.92 L251.96 68.29 L253.03 68.66 L254.10 69.03 L255.17 69.40 L256.24 69.77 L257.31 70.15 L258.38 70.52 L259.45 70.90 L260.52 71.27 L261.60 71.65 L262.67 72.03 L263.74 72.41 L264.81 72.79 L265.88 73.17 L266.95 73.56 L268.02 73.94 L269.09 74.33 L270.16 74.72 L271.23 75.10 L272.30 75.49 L273.37 75.88 L274.44 76.27 L275.51 76.67 L276.58 77.06 L277.65 77.46 L278.72 77.85 L279.79 78.25 L280.86 78.65 L281.94 79.05 L283.01 79.45 L284.08 79.86 L285.15 80.26 L286.22 80.67 L287.29 81.07 L288.36 81.48 L289.43 81.89 L290.50 82.30 L291.57 82.72 L292.64 83.13 L293.71 83.54 L294.78 83.96 L295.85 84.38 L296.92 84.80 L297.99 85.22 L299.06 85.64 L300.13 86.07 L301.21 86.49 L302.28 86.92 L303.35 87.35 L304.42 87.78 L305.49 88.21 L306.56 88.64 L307.63 89.08 L308.70 89.52 L309.77 89.95 L310.84 90.39 L311.91 90.84 L312.98 91.28 L314.05 91.72 L315.12 92.17 L316.19 92.62 L317.26 93.07 L318.33 93.52 L319.40 93.97 L320.47 94.43 L321.55 94.88 L322.62 95.34 L323.69 95.80 L324.76 96.26 L325.83 96.73 L326.90 97.19 L327.97 97.66 L329.04 98.13 L330.11 98.60 L331.18 99.07 L332.25 99.55 L333.32 100.02 L334.39 100.50 L335.46 100.98 L336.53 101.46 L337.60 101.95 L338.67 102.43 L339.74 102.92 L340.82 103.41 L341.89 103.90 L342.96 104.39 L344.03 104.89 L345.10 105.39 L346.17 105.89 L347.24 106.39 L348.31 106.89 L349.38 107.40 L350.45 107.90 L351.52 108.41 L352.59 108.93 L353.66 109.44 L354.73 109.96 L355.80 110.47 L356.87 110.99 L357.94 111.52 L359.01 112.04 L360.08 112.57 L361.16 113.10 L362.23 113.63 L363.30 114.16 L364.37 114.69 L365.44 115.23 L366.51 115.77 L367.58 116.31 L368.65 116.86 L369.72 117.40 L370.79 117.95 L371.86 118.50 L372.93 119.06 L374.00 119.61 L375.07 120.17 L376.14 120.73 L377.21 121.29 L378.28 121.86 L379.35 122.43 L380.43 123.00 L381.50 123.57 L382.57 124.14 L383.64 124.72 L384.71 125.30 L385.78 125.88 L386.85 126.46 L387.92 127.05 L388.99 127.64 L390.06 128.23 L391.13 128.82 L392.20 129.42 L393.27 130.02 L394.34 130.62 L395.41 131.23 L396.48 131.83 L397.55 132.44 L398.62 133.05 L399.69 133.67 L400.77 134.28 L401.84 134.90 L402.91 135.53 L403.98 136.15 L405.05 136.78 L406.12 137.41 L407.19 138.04 L408.26 138.68 L409.33 139.31 L410.40 139.96 L411.47 140.60 L412.54 141.25 L413.61 141.89 L414.68 142.55 L415.75 143.20 L416.82 143.86 L417.89 144.52 L418.96 145.18 L420.04 145.85 L421.11 146.52 L422.18 147.19 L423.25 147.86 L424.32 148.54 L425.39 149.22 L426.46 149.90 L427.53 150.59 L428.60 151.27 L429.67 151.97 L430.74 152.66 L431.81 153.36 L432.88 154.06 L433.95 154.76 L435.02 155.47 L436.09 156.18 L437.16 156.89 L438.23 157.60 L439.31 158.32 L440.38 159.04 L441.45 159.77 L442.52 160.50 L443.59 161.23 L444.66 161.96 L445.73 162.70 L446.80 163.44 L447.87 164.18 L448.94 164.92 L450.01 165.67 L451.08 166.43 L452.15 167.18 L453.22 167.94 L454.29 168.70 L455.36 169.47 L456.43 170.23 L457.50 171.01 L458.57 171.78 L459.65 172.56 L460.72 173.34 L461.79 174.12 L462.86 174.91 L463.93 175.70 L465.00 176.50 L466.07 177.29 L467.14 178.10 L468.21 178.90 L469.28 179.71 L470.35 180.52 L471.42 181.33 L472.49 182.15 L473.56 182.97 L474.63 183.80 L475.70 184.62 L476.77 185.45 L477.84 186.29 L478.92 187.13 L479.99 187.97 L481.06 188.81 L482.13 189.66 L483.20 190.52 L484.27 191.37 L485.34 192.23 L486.41 193.09 L487.48 193.96 L488.55 194.83 L489.62 195.70 L490.69 196.58 L491.76 197.46 L492.83 198.34 L493.90 199.22 L494.97 200.11 L496.04 201.01 L497.11 201.90 L498.18 202.80 L499.26 203.70 L500.33 204.61 L501.40 205.52 L502.47 206.43 L503.54 207.34 L504.61 208.26 L505.68 209.18 L506.75 210.11 L507.82 211.04 L508.89 211.97 L509.96 212.90 L511.03 213.84 L512.10 214.78 L513.17 215.72 L514.24 216.67 L515.31 217.61 L516.38 218.57 L517.45 219.52 L518.53 220.48 L519.60 221.44 L520.67 222.41 L521.74 223.37 L522.81 224.34 L523.88 225.31 L524.95 226.29 L526.02 227.27 L527.09 228.25 L528.16 229.23 L529.23 230.22 L530.30 231.21 L531.37 232.20 L532.44 233.20 L533.51 234.20 L534.58 235.20 L535.65 236.20 L536.72 237.21 L537.79 238.22 L538.87 239.23 L539.94 240.24 L541.01 241.26 L542.08 242.28 L543.15 243.30 L544.22 244.33 L545.29 245.36 L546.36 246.39 L547.43 247.42 L548.50 248.46 L549.57 249.49 L550.64 250.53 L551.71 251.58 L552.78 252.62 L553.85 253.67 L554.92 254.72 L555.99 255.78 L557.06 256.83 L558.14 257.89 L559.21 258.95 L560.28 260.01 L561.35 261.08 L562.42 262.14 L563.49 263.21 L564.56 264.29 L565.63 265.36 L566.70 266.44 L567.77 267.52 L568.84 268.60 L569.91 269.68 L570.98 270.77 L572.05 271.86 L573.12 272.95 L574.19 274.04 L575.26 275.14 L576.33 276.23 L577.40 277.33 L578.48 278.43 L579.55 279.54 L580.62 280.64 L581.69 281.75 L582.76 282.86 L583.83 283.97 L584.90 285.09 L585.97 286.20 L587.04 287.32 L588.11 288.44 L589.18 289.57 L590.25 290.69 L591.32 291.82 L592.39 292.94 L593.46 294.07 L594.53 295.21 L595.60 296.34 L596.67 297.48 L597.75 298.61 L598.82 299.76 L599.89 300.90 L600.96 302.04 L602.03 303.19 L603.10 304.35 L604.17 305.50 L605.24 306.67 L606.31 307.83 L607.38 309.00 L608.45 310.18 L609.52 311.36 L610.59 312.55 L611.66 313.74 L612.73 314.94 L613.80 316.15 L614.87 317.36 L615.94 318.59 L617.01 319.82 L618.09 321.05 L619.16 322.30 L620.23 323.56 L621.30 324.82 L622.37 326.09 L623.44 327.38 L624.51 328.67 L625.58 329.97 L626.65 331.29 L627.72 332.61 L628.79 333.95 L629.86 335.30 L630.93 336.66 L632.00 338.03 L633.07 339.42 L634.14 340.82 L635.21 342.23 L636.28 343.65 L637.36 345.09 L638.43 346.55 L639.50 348.01 L640.57 349.50 L641.64 351.00 L642.71 352.51 L643.78 354.04 L644.85 355.58 L645.92 357.15 L646.99 358.73 L648.06 360.32 L649.13 361.93 L650.20 363.57 L651.27 365.22 L652.34 366.88 L653.41 368.57 L654.48 370.28 L655.55 372.00 L656.62 373.75 L657.70 375.52 L658.77 377.30 L659.84 379.11 L660.91 380.94 L661.98 382.80 L663.05 384.67 L664.12 386.57 L665.19 388.49 L666.26 390.44 L667.33 392.41 L668.40 394.40 L669.47 396.42 L670.54 398.47 L671.61 400.54 L672.68 402.64 L673.75 404.76 L674.82 406.91 L675.89 409.09 L676.97 411.30 L678.04 413.53 L679.11 415.80 L680.18 418.09 L681.25 420.41 L682.32 422.76 L683.39 425.14 L684.46 427.56 L685.53 430.00 L686.60 432.48" stroke="#ff0000" stroke-dasharray="18.7 9.34"/>
</g>
<g fill="none" stroke="#000" stroke-width="2.5" stroke-linecap="butt" stroke-linejoin="bevel">
<rect x="103.6" y="32.75" width="695.60" height="494.55"/>
<path d="M138.38 527.3 V522.00 M138.38 32.75 V38.05 M173.16 527.3 V522.00 M173.16 32.75 V38.05 M207.94 527.3 V522.00 M207.94 32.75 V38.05 M242.72 527.3 V517.10 M242.72 32.75 V42.95 M277.50 527.3 V522.00 M277.50 32.75 V38.05 M312.28 527.3 V522.00 M312.28 32.75 V38.05 M347.06 527.3 V522.00 M347.06 32.75 V38.05 M381.84 527.3 V517.10 M381.84 32.75 V42.95 M416.62 527.3 V522.00 M416.62 32.75 V38.05 M451.40 527.3 V522.00 M451.40 32.75 V38.05 M486.18 527.3 V522.00 M486.18 32.75 V38.05 M520.96 527.3 V517.10 M520.96 32.75 V42.95 M555.74 527.3 V522.00 M555.74 32.75 V38.05 M590.52 527.3 V522.00 M590.52 32.75 V38.05 M625.30 527.3 V522.00 M625.30 32.75 V38.05 M660.08 527.3 V517.10 M660.08 32.75 V42.95 M694.86 527.3 V522.00 M694.86 32.75 V38.05 M729.64 527.3 V522.00 M729.64 32.75 V38.05 M764.42 527.3 V522.00 M764.42 32.75 V38.05 M103.6 502.57 H110.60 M799.2 502.57 H792.20 M103.6 477.84 H110.60 M799.2 477.84 H792.20 M103.6 453.12 H110.60 M799.2 453.12 H792.20 M103.6 428.39 H110.60 M799.2 428.39 H792.20 M103.6 403.66 H117.50 M799.2 403.66 H785.30 M103.6 378.93 H110.60 M799.2 378.93 H792.20 M103.6 354.21 H110.60 M799.2 354.21 H792.20 M103.6 329.48 H110.60 M799.2 329.48 H792.20 M103.6 304.75 H110.60 M799.2 304.75 H792.20 M103.6 280.02 H117.50 M799.2 280.02 H785.30 M103.6 255.30 H110.60 M799.2 255.30 H792.20 M103.6 230.57 H110.60 M799.2 230.57 H792.20 M103.6 205.84 H110.60 M799.2 205.84 H792.20 M103.6 181.12 H110.60 M799.2 181.12 H792.20 M103.6 156.39 H117.50 M799.2 156.39 H785.30 M103.6 131.66 H110.60 M799.2 131.66 H792.20 M103.6 106.93 H110.60 M799.2 106.93 H792.20 M103.6 82.20 H110.60 M799.2 82.20 H792.20 M103.6 57.48 H110.60 M799.2 57.48 H792.20"/>
</g>
<path d="M102.34 543.31 L100.38 543.96 L99.07 545.90 L98.41 549.13 L98.41 551.08 L99.07 554.31 L100.38 556.25 L102.34 556.90 L103.66 556.90 L105.62 556.25 L106.93 554.31 L107.58 551.08 L107.58 549.13 L106.93 545.90 L105.62 543.96 L103.66 543.31 L102.34 543.31 M238.19 546.55 L238.19 545.90 L238.84 544.60 L239.50 543.96 L240.81 543.31 L243.43 543.31 L244.74 543.96 L245.40 544.60 L246.05 545.90 L246.05 547.19 L245.40 548.49 L244.09 550.43 L237.53 556.90 L246.71 556.90 M383.20 543.31 L376.66 552.37 L386.48 552.37 M383.20 543.31 L383.20 556.90 M524.29 545.25 L523.63 543.96 L521.67 543.31 L520.36 543.31 L518.39 543.96 L517.09 545.90 L516.43 549.13 L516.43 552.37 L517.09 554.96 L518.39 556.25 L520.36 556.90 L521.01 556.90 L522.98 556.25 L524.29 554.96 L524.95 553.02 L524.95 552.37 L524.29 550.43 L522.98 549.13 L521.01 548.49 L520.36 548.49 L518.39 549.13 L517.09 550.43 L516.43 552.37 M658.17 543.31 L656.21 543.96 L655.55 545.25 L655.55 546.55 L656.21 547.84 L657.51 548.49 L660.13 549.13 L662.10 549.78 L663.41 551.08 L664.07 552.37 L664.07 554.31 L663.41 555.61 L662.75 556.25 L660.79 556.90 L658.17 556.90 L656.21 556.25 L655.55 555.61 L654.89 554.31 L654.89 552.37 L655.55 551.08 L656.86 549.78 L658.83 549.13 L661.45 548.49 L662.75 547.84 L663.41 546.55 L663.41 545.25 L662.75 543.96 L660.79 543.31 L658.17 543.31 M789.43 545.90 L790.74 545.25 L792.71 543.31 L792.71 556.90 M804.50 543.31 L802.53 543.96 L801.22 545.90 L800.57 549.13 L800.57 551.08 L801.22 554.31 L802.53 556.25 L804.50 556.90 L805.81 556.90 L807.77 556.25 L809.08 554.31 L809.74 551.08 L809.74 549.13 L809.08 545.90 L807.77 543.96 L805.81 543.31 L804.50 543.31 M43.74 32.91 L41.78 33.56 L40.47 35.50 L39.81 38.73 L39.81 40.68 L40.47 43.91 L41.78 45.85 L43.74 46.50 L45.05 46.50 L47.02 45.85 L48.33 43.91 L48.98 40.68 L48.98 38.73 L48.33 35.50 L47.02 33.56 L45.05 32.91 L43.74 32.91 M54.22 45.21 L53.57 45.85 L54.22 46.50 L54.88 45.85 L54.22 45.21 M53.77 45.85 L54.68 45.85 M54.22 46.31 L54.22 45.40 M63.40 32.91 L61.43 33.56 L60.12 35.50 L59.47 38.73 L59.47 40.68 L60.12 43.91 L61.43 45.85 L63.40 46.50 L64.70 46.50 L66.67 45.85 L67.98 43.91 L68.63 40.68 L68.63 38.73 L67.98 35.50 L66.67 33.56 L64.70 32.91 L63.40 32.91 M73.88 32.91 L81.08 32.91 L77.15 38.09 L79.12 38.09 L80.43 38.73 L81.08 39.38 L81.73 41.32 L81.73 42.62 L81.08 44.56 L79.77 45.85 L77.81 46.50 L75.84 46.50 L73.88 45.85 L73.22 45.21 L72.56 43.91 M89.59 32.91 L87.63 33.56 L86.32 35.50 L85.67 38.73 L85.67 40.68 L86.32 43.91 L87.63 45.85 L89.59 46.50 L90.91 46.50 L92.87 45.85 L94.18 43.91 L94.84 40.68 L94.84 38.73 L94.18 35.50 L92.87 33.56 L90.91 32.91 L89.59 32.91 M43.74 150.71 L41.78 151.36 L40.47 153.30 L39.81 156.53 L39.81 158.48 L40.47 161.71 L41.78 163.65 L43.74 164.30 L45.05 164.30 L47.02 163.65 L48.33 161.71 L48.98 158.48 L48.98 156.53 L48.33 153.30 L47.02 151.36 L45.05 150.71 L43.74 150.71 M54.22 163.01 L53.57 163.65 L54.22 164.30 L54.88 163.65 L54.22 163.01 M53.77 163.65 L54.68 163.65 M54.22 164.11 L54.22 163.20 M63.40 150.71 L61.43 151.36 L60.12 153.30 L59.47 156.53 L59.47 158.48 L60.12 161.71 L61.43 163.65 L63.40 164.30 L64.70 164.30 L66.67 163.65 L67.98 161.71 L68.63 158.48 L68.63 156.53 L67.98 153.30 L66.67 151.36 L64.70 150.71 L63.40 150.71 M73.22 153.95 L73.22 153.30 L73.88 152.00 L74.53 151.36 L75.84 150.71 L78.46 150.71 L79.77 151.36 L80.43 152.00 L81.08 153.30 L81.08 154.59 L80.43 155.89 L79.12 157.83 L72.56 164.30 L81.73 164.30 M93.53 150.71 L86.98 150.71 L86.32 156.53 L86.98 155.89 L88.94 155.24 L90.91 155.24 L92.87 155.89 L94.18 157.18 L94.84 159.12 L94.84 160.42 L94.18 162.36 L92.87 163.65 L90.91 164.30 L88.94 164.30 L86.98 163.65 L86.32 163.01 L85.67 161.71 M43.74 274.31 L41.78 274.96 L40.47 276.90 L39.81 280.13 L39.81 282.08 L40.47 285.31 L41.78 287.25 L43.74 287.90 L45.05 287.90 L47.02 287.25 L48.33 285.31 L48.98 282.08 L48.98 280.13 L48.33 276.90 L47.02 274.96 L45.05 274.31 L43.74 274.31 M54.22 286.61 L53.57 287.25 L54.22 287.90 L54.88 287.25 L54.22 286.61 M53.77 287.25 L54.68 287.25 M54.22 287.71 L54.22 286.80 M63.40 274.31 L61.43 274.96 L60.12 276.90 L59.47 280.13 L59.47 282.08 L60.12 285.31 L61.43 287.25 L63.40 287.90 L64.70 287.90 L66.67 287.25 L67.98 285.31 L68.63 282.08 L68.63 280.13 L67.98 276.90 L66.67 274.96 L64.70 274.31 L63.40 274.31 M73.22 277.55 L73.22 276.90 L73.88 275.60 L74.53 274.96 L75.84 274.31 L78.46 274.31 L79.77 274.96 L80.43 275.60 L81.08 276.90 L81.08 278.19 L80.43 279.49 L79.12 281.43 L72.56 287.90 L81.73 287.90 M89.59 274.31 L87.63 274.96 L86.32 276.90 L85.67 280.13 L85.67 282.08 L86.32 285.31 L87.63 287.25 L89.59 287.90 L90.91 287.90 L92.87 287.25 L94.18 285.31 L94.84 282.08 L94.84 280.13 L94.18 276.90 L92.87 274.96 L90.91 274.31 L89.59 274.31 M43.74 397.91 L41.78 398.56 L40.47 400.50 L39.81 403.73 L39.81 405.68 L40.47 408.91 L41.78 410.85 L43.74 411.50 L45.05 411.50 L47.02 410.85 L48.33 408.91 L48.98 405.68 L48.98 403.73 L48.33 400.50 L47.02 398.56 L45.05 397.91 L43.74 397.91 M54.22 410.21 L53.57 410.85 L54.22 411.50 L54.88 410.85 L54.22 410.21 M53.77 410.85 L54.68 410.85 M54.22 411.31 L54.22 410.40 M63.40 397.91 L61.43 398.56 L60.12 400.50 L59.47 403.73 L59.47 405.68 L60.12 408.91 L61.43 410.85 L63.40 411.50 L64.70 411.50 L66.67 410.85 L67.98 408.91 L68.63 405.68 L68.63 403.73 L67.98 400.50 L66.67 398.56 L64.70 397.91 L63.40 397.91 M74.53 400.50 L75.84 399.85 L77.81 397.91 L77.81 411.50 M93.53 397.91 L86.98 397.91 L86.32 403.73 L86.98 403.09 L88.94 402.44 L90.91 402.44 L92.87 403.09 L94.18 404.38 L94.84 406.32 L94.84 407.62 L94.18 409.56 L92.87 410.85 L90.91 411.50 L88.94 411.50 L86.98 410.85 L86.32 410.21 L85.67 408.91 M43.74 513.71 L41.78 514.36 L40.47 516.30 L39.81 519.53 L39.81 521.48 L40.47 524.71 L41.78 526.65 L43.74 527.30 L45.05 527.30 L47.02 526.65 L48.33 524.71 L48.98 521.48 L48.98 519.53 L48.33 516.30 L47.02 514.36 L45.05 513.71 L43.74 513.71 M54.22 526.01 L53.57 526.65 L54.22 527.30 L54.88 526.65 L54.22 526.01 M53.77 526.65 L54.68 526.65 M54.22 527.11 L54.22 526.20 M63.40 513.71 L61.43 514.36 L60.12 516.30 L59.47 519.53 L59.47 521.48 L60.12 524.71 L61.43 526.65 L63.40 527.30 L64.70 527.30 L66.67 526.65 L67.98 524.71 L68.63 521.48 L68.63 519.53 L67.98 516.30 L66.67 514.36 L64.70 513.71 L63.40 513.71 M74.53 516.30 L75.84 515.65 L77.81 513.71 L77.81 527.30 M89.59 513.71 L87.63 514.36 L86.32 516.30 L85.67 519.53 L85.67 521.48 L86.32 524.71 L87.63 526.65 L89.59 527.30 L90.91 527.30 L92.87 526.65 L94.18 524.71 L94.84 521.48 L94.84 519.53 L94.18 516.30 L92.87 514.36 L90.91 513.71 L89.59 513.71 M418.15 569.01 L418.15 580.01 L418.81 581.95 L420.12 582.60 L421.43 582.60 M416.19 573.54 L420.77 573.54 M429.94 566.42 L428.63 567.72 L427.32 569.66 L426.01 572.25 L425.36 575.48 L425.36 578.07 L426.01 581.31 L427.32 583.89 L428.63 585.84 L429.94 587.13 M434.53 569.01 L434.53 582.60 M434.53 569.01 L439.77 582.60 M445.01 569.01 L439.77 582.60 M445.01 569.01 L445.01 582.60 M448.94 573.54 L452.87 582.60 M456.80 573.54 L452.87 582.60 L451.56 585.19 L450.25 586.48 L448.94 587.13 L448.28 587.13 M460.73 573.54 L460.73 582.60 M460.73 577.42 L461.38 575.48 L462.69 574.19 L464.00 573.54 L465.97 573.54 M475.79 575.48 L475.14 574.19 L473.17 573.54 L471.21 573.54 L469.24 574.19 L468.59 575.48 L469.24 576.78 L470.55 577.42 L473.83 578.07 L475.14 578.72 L475.79 580.01 L475.79 580.66 L475.14 581.95 L473.17 582.60 L471.21 582.60 L469.24 581.95 L468.59 580.66 M479.72 566.42 L481.03 567.72 L482.34 569.66 L483.65 572.25 L484.31 575.48 L484.31 578.07 L483.65 581.31 L482.34 583.89 L481.03 585.84 L479.72 587.13 M6.21 307.15 L19.80 307.15 M6.21 307.15 L6.21 302.57 L6.86 300.60 L8.15 299.29 L9.45 298.64 L11.39 297.98 L14.62 297.98 L16.56 298.64 L17.86 299.29 L19.15 300.60 L19.80 302.57 L19.80 307.15 M3.62 288.81 L4.92 290.12 L6.86 291.43 L9.45 292.74 L12.68 293.40 L15.27 293.40 L18.51 292.74 L21.09 291.43 L23.04 290.12 L24.33 288.81 M6.21 280.95 L19.80 286.19 M6.21 280.95 L19.80 275.71 M15.27 284.23 L15.27 277.68 M6.21 272.44 L15.92 272.44 L17.86 271.78 L19.15 270.47 L19.80 268.51 L19.80 267.20 L19.15 265.23 L17.86 263.92 L15.92 263.27 L6.21 263.27 M3.62 258.68 L4.92 257.37 L6.86 256.06 L9.45 254.75 L12.68 254.10 L15.27 254.10 L18.51 254.75 L21.09 256.06 L23.04 257.37 L24.33 258.68 M579.23 246.27 L580.34 245.73 L582.00 244.12 L582.00 255.40 M592.00 244.12 L590.33 244.66 L589.22 246.27 L588.66 248.96 L588.66 250.57 L589.22 253.25 L590.33 254.86 L592.00 255.40 L593.11 255.40 L594.77 254.86 L595.88 253.25 L596.43 250.57 L596.43 248.96 L595.88 246.27 L594.77 244.66 L593.11 244.12 L592.00 244.12 M780.63 320.27 L781.74 319.73 L783.40 318.12 L783.40 329.40 M791.73 320.27 L792.84 319.73 L794.50 318.12 L794.50 329.40 M780.63 369.27 L781.74 368.73 L783.40 367.12 L783.40 378.40 M790.62 369.81 L790.62 369.27 L791.17 368.20 L791.73 367.66 L792.84 367.12 L795.06 367.12 L796.17 367.66 L796.72 368.20 L797.28 369.27 L797.28 370.34 L796.72 371.42 L795.62 373.03 L790.06 378.40 L797.83 378.40 M609.73 416.77 L610.84 416.23 L612.50 414.62 L612.50 425.90 M620.27 414.62 L626.38 414.62 L623.05 418.92 L624.72 418.92 L625.82 419.46 L626.38 419.99 L626.93 421.60 L626.93 422.68 L626.38 424.29 L625.27 425.36 L623.61 425.90 L621.94 425.90 L620.27 425.36 L619.72 424.83 L619.16 423.75 M689.33 444.07 L690.44 443.53 L692.11 441.92 L692.11 453.20 M704.32 441.92 L698.76 449.44 L707.09 449.44 M704.32 441.92 L704.32 453.20" fill="none" stroke="#2a2a2a" stroke-width="0.85" stroke-linecap="round" stroke-linejoin="round"/>
</svg></body></html>
